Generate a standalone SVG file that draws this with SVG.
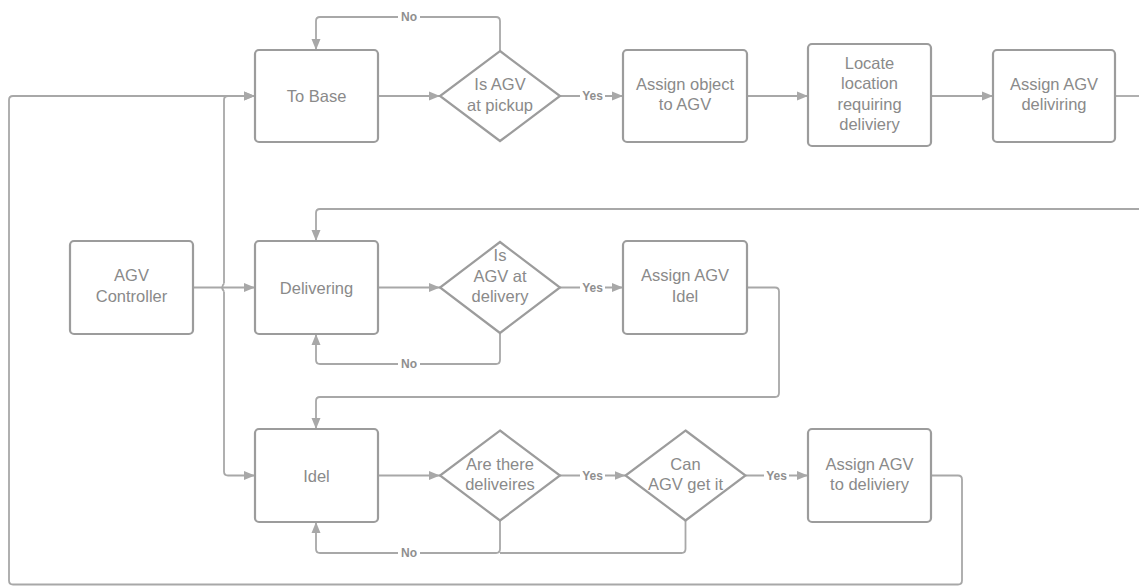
<svg xmlns="http://www.w3.org/2000/svg" width="1139" height="586" viewBox="0 0 1139 586">
<style>
.box{fill:#fff;stroke:#9c9c9c;stroke-width:2.2}
.t{font-family:"Liberation Sans",Arial,sans-serif;font-size:16.5px;fill:#8a8a8a;text-anchor:middle}
.c{fill:none;stroke:#a8a8a8;stroke-width:1.8}
.a{marker-end:url(#arr)}
.lbl{font-family:"Liberation Sans",Arial,sans-serif;font-size:12px;font-weight:bold;fill:#8f8f8f;text-anchor:middle}
.lb{fill:#fff}
</style>
<defs>
<marker id="arr" markerUnits="userSpaceOnUse" markerWidth="12" markerHeight="10" refX="11" refY="5" orient="auto">
<path d="M0,0.5 L11,5 L0,9.5 z" fill="#a8a8a8"/>
</marker>
</defs>
<rect width="1139" height="586" fill="#fff"/>
<g id="connectors">
<path class="c a" d="M378,96 H440"/>
<path class="c a" d="M500,51 V21 Q500,17 496,17 H320 Q316,17 316,21 V50"/>
<path class="c a" d="M560,96 H623"/>
<path class="c a" d="M747,96 H808"/>
<path class="c a" d="M931,96 H993"/>
<path class="c" d="M1115,96 H1139"/>
<path class="c a" d="M1139,209 H320 Q316,209 316,213 V241"/>
<path class="c a" d="M193,287.5 H255"/>
<path class="c a" d="M224,283.5 V100 Q224,96 228,96 H255"/>
<path class="c a" d="M224,291.5 V471.5 Q224,475.5 228,475.5 H255"/>
<path class="c" d="M224,283.5 Q220.5,287.5 224,291.5"/>
<path class="c a" d="M378,287.5 H440"/>
<path class="c a" d="M560,287.5 H623"/>
<path class="c a" d="M500,333 V360 Q500,364 496,364 H320 Q316,364 316,360 V334"/>
<path class="c a" d="M747,287.5 H775 Q779,287.5 779,291.5 V393 Q779,397 775,397 H320 Q316,397 316,401 V429"/>
<path class="c a" d="M378,475.5 H440"/>
<path class="c a" d="M560,475.5 H625.5"/>
<path class="c a" d="M745.5,475.5 H808"/>
<path class="c a" d="M500,520.5 V549 Q500,553 496,553 H320 Q316,553 316,549 V522"/>
<path class="c" d="M685.5,520.5 V549 Q685.5,553 681.5,553 H500"/>
<path class="c a" d="M931,475.5 H958 Q962,475.5 962,479.5 V580.5 Q962,584.5 958,584.5 H13 Q9,584.5 9,580.5 V100 Q9,96 13,96 H255"/>
<rect class="lb" x="398" y="10" width="22" height="13"/>
<text class="lbl" x="409" y="21">No</text>
<rect class="lb" x="580" y="89" width="25" height="13"/>
<text class="lbl" x="592.5" y="100">Yes</text>
<rect class="lb" x="398" y="357" width="22" height="13"/>
<text class="lbl" x="409" y="368">No</text>
<rect class="lb" x="580" y="280.5" width="25" height="13"/>
<text class="lbl" x="592.5" y="291.5">Yes</text>
<rect class="lb" x="398" y="546" width="22" height="13"/>
<text class="lbl" x="409" y="557">No</text>
<rect class="lb" x="580" y="468.5" width="25" height="13"/>
<text class="lbl" x="592.5" y="479.5">Yes</text>
<rect class="lb" x="764" y="468.5" width="25" height="13"/>
<text class="lbl" x="776.5" y="479.5">Yes</text>
</g>
<g id="to-base"><rect class="box" x="255" y="50" width="123" height="92" rx="4"/><text class="t" x="316.5" y="102">To Base</text></g>
<g id="is-agv-at-pickup"><path class="box" d="M500,51 L560,96 L500,141 L440,96 Z"/><text class="t" x="500" y="90">Is AGV</text><text class="t" x="500" y="110.5">at pickup</text></g>
<g id="assign-object"><rect class="box" x="623" y="50" width="124" height="92" rx="4"/><text class="t" x="685" y="89.5">Assign object</text><text class="t" x="685" y="110">to AGV</text></g>
<g id="locate-location"><rect class="box" x="808" y="44" width="123" height="102" rx="4"/><text class="t" x="869.5" y="68.5">Locate</text><text class="t" x="869.5" y="89">location</text><text class="t" x="869.5" y="109.5">requiring</text><text class="t" x="869.5" y="130">deliviery</text></g>
<g id="assign-agv-deliviring"><rect class="box" x="993" y="50" width="122" height="92" rx="4"/><text class="t" x="1054" y="89.5">Assign AGV</text><text class="t" x="1054" y="110">deliviring</text></g>
<g id="agv-controller"><rect class="box" x="70" y="241" width="123" height="93" rx="4"/><text class="t" x="131.5" y="281">AGV</text><text class="t" x="131.5" y="301.5">Controller</text></g>
<g id="delivering"><rect class="box" x="255" y="241" width="123" height="93" rx="4"/><text class="t" x="316.5" y="293.5">Delivering</text></g>
<g id="is-agv-at-delivery"><path class="box" d="M500,242 L560,287.5 L500,333 L440,287.5 Z"/><text class="t" x="500" y="261">Is</text><text class="t" x="500" y="281.5">AGV at</text><text class="t" x="500" y="302">delivery</text></g>
<g id="assign-agv-idel"><rect class="box" x="623" y="241" width="124" height="93" rx="4"/><text class="t" x="685" y="281">Assign AGV</text><text class="t" x="685" y="301.5">Idel</text></g>
<g id="idel"><rect class="box" x="255" y="429" width="123" height="93" rx="4"/><text class="t" x="316.5" y="481.5">Idel</text></g>
<g id="are-there-deliveires"><path class="box" d="M500,430.5 L560,475.5 L500,520.5 L440,475.5 Z"/><text class="t" x="500" y="469.5">Are there</text><text class="t" x="500" y="490">deliveires</text></g>
<g id="can-agv-get-it"><path class="box" d="M685.5,430.5 L745.5,475.5 L685.5,520.5 L625.5,475.5 Z"/><text class="t" x="685.5" y="469.5">Can</text><text class="t" x="685.5" y="490">AGV get it</text></g>
<g id="assign-agv-to-deliviery"><rect class="box" x="808" y="429" width="123" height="93" rx="4"/><text class="t" x="869.5" y="469.5">Assign AGV</text><text class="t" x="869.5" y="490">to deliviery</text></g>
</svg>
